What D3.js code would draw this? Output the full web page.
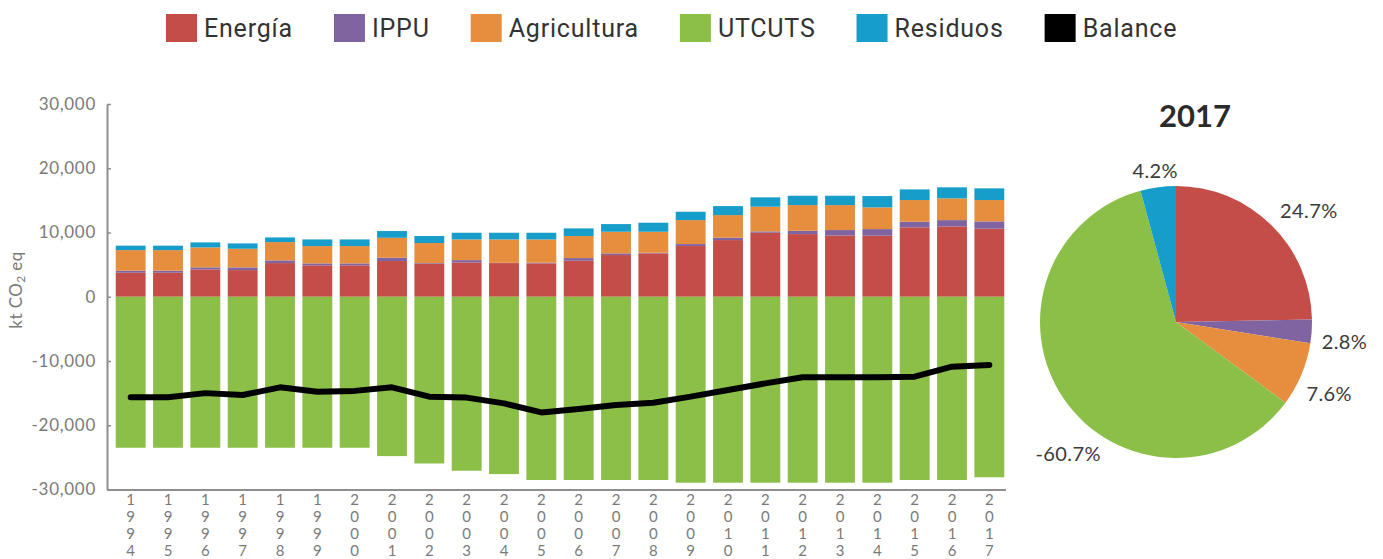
<!DOCTYPE html>
<html>
<head>
<meta charset="utf-8">
<script src="https://cdn.jsdelivr.net/npm/d3@7"></script>
<style>
  html, body { margin: 0; padding: 0; background: #fff; }
  svg { display: block; }
  text { font-family: Lato, "Open Sans", sans-serif; }
</style>
</head>
<body>
<svg id="chart" width="1383" height="559"></svg>
<script>
// ---------------- DATA ----------------
const years = ["1994","1995","1996","1997","1998","1999","2000","2001","2002","2003","2004","2005",
               "2006","2007","2008","2009","2010","2011","2012","2013","2014","2015","2016","2017"];
const energia     = [3740,3740,4250,4150,5240,4880,4880,5560,5130,5340,5240,5190,5610,6490,6750,7890,8820,9960,9750,9540,9500,10800,10950,10590];
const ippu        = [310,310,320,420,420,310,310,510,110,360,40,100,410,260,100,310,370,210,520,840,1030,880,980,1140];
const agricultura = [3210,3210,3110,2900,2850,2700,2700,3110,3120,3220,3640,3630,3430,3370,3270,3730,3520,3850,4000,3890,3380,3370,3380,3320];
const utcuts      = [-23500,-23500,-23500,-23500,-23500,-23500,-23500,-24800,-25950,-27080,-27600,-28520,-28520,-28520,-28520,-28940,-28940,-28940,-28940,-28940,-28940,-28520,-28520,-28100];
const residuos    = [690,690,780,830,720,1030,1030,1050,1090,1040,1040,1040,1190,1190,1400,1300,1400,1450,1450,1450,1760,1660,1720,1820];
const balance     = [-15650,-15650,-15000,-15300,-14100,-14800,-14650,-14100,-15550,-15700,-16600,-18000,-17470,-16850,-16490,-15550,-14510,-13480,-12540,-12540,-12540,-12440,-10880,-10620];

const seriesNames  = ["Energía","IPPU","Agricultura","UTCUTS","Residuos"];
const seriesColors = ["#C44D48","#8064A2","#E68E3E","#8CBF47","#179DC9"];
const legendNames  = ["Energía","IPPU","Agricultura","UTCUTS","Residuos","Balance"];
const legendColors = ["#C44D48","#8064A2","#E68E3E","#8CBF47","#179DC9","#000000"];

const yTicks = [-30000,-20000,-10000,0,10000,20000,30000];

const pieYear   = "2017";
const pieNames  = ["Energía","IPPU","Agricultura","UTCUTS","Residuos"];
const pieValues = [24.7, 2.8, 7.6, 60.7, 4.2];
const pieLabels = ["24.7%","2.8%","7.6%","-60.7%","4.2%"];

// ---------------- DRAW ----------------
const svg = d3.select("#chart");
const locale = d3.formatLocale({decimal:".", thousands:",", grouping:[3], currency:["",""], minus:"-"});
const fmt = locale.format(",");

const rows = years.map((y,i) => ({
  year: y,
  "Energía": energia[i], "IPPU": ippu[i], "Agricultura": agricultura[i],
  "UTCUTS": utcuts[i], "Residuos": residuos[i]
}));

const x = d3.scaleBand().domain(years).range([112, 1008]).paddingInner(0.2).paddingOuter(0.1);
const y = d3.scaleLinear().domain([-30000, 30000]).range([489.5, 104]);

const stack = d3.stack().keys(seriesNames).offset(d3.stackOffsetDiverging);
const stacked = stack(rows);

const color = d3.scaleOrdinal().domain(seriesNames).range(seriesColors);

// bars
svg.append("g").selectAll("g")
  .data(stacked)
  .join("g")
  .attr("fill", d => color(d.key))
  .selectAll("rect")
  .data(d => d)
  .join("rect")
  .attr("x", d => x(d.data.year))
  .attr("width", x.bandwidth())
  .attr("y", d => y(Math.max(d[0], d[1])))
  .attr("height", d => Math.abs(y(d[0]) - y(d[1])));

// y axis
const yAxis = d3.axisLeft(y).tickValues(yTicks).tickFormat(fmt).tickSizeInner(-4).tickSizeOuter(0).tickPadding(11);
const gy = svg.append("g").attr("transform", "translate(107,0)").call(yAxis);
gy.select(".domain").attr("stroke", "#8f8f8f").attr("stroke-width", 2);
gy.selectAll(".tick line").attr("stroke", "#8f8f8f").attr("stroke-width", 1.5);
gy.selectAll(".tick text").attr("fill", "#7a7a7a").style("font-size", "17px").style("font-family", "Lato, sans-serif").style("letter-spacing", "0.7px");

// x axis
const xAxis = d3.axisBottom(x).tickSize(0).tickFormat("");
const gx = svg.append("g").attr("transform", "translate(0,490)").call(xAxis);
gx.select(".domain").attr("d", `M107,0H1006`).attr("stroke", "#8f8f8f").attr("stroke-width", 2);
gx.selectAll(".tick").each(function(d) {
  const t = d3.select(this).append("text")
    .attr("fill", "#7a7a7a").attr("text-anchor", "middle")
    .style("font-size", "15px");
  d.split("").forEach((ch, k) => {
    t.append("tspan").attr("x", 0).attr("y", 15 + k * 17).text(ch);
  });
});

// y axis title
svg.append("text")
  .attr("transform", "translate(22,290) rotate(-90)")
  .attr("text-anchor", "middle")
  .attr("fill", "#7a7a7a")
  .style("font-size", "17px")
  .style("letter-spacing", "0.4px")
  .html('kt CO<tspan dy="3" font-size="12px">2</tspan><tspan dy="-3"> eq</tspan>');

// balance line
const line = d3.line()
  .x((d, i) => x(years[i]) + x.bandwidth() / 2)
  .y(d => y(d));
svg.append("path")
  .datum(balance)
  .attr("fill", "none")
  .attr("stroke", "#000")
  .attr("stroke-width", 6)
  .attr("stroke-linejoin", "round")
  .attr("stroke-linecap", "round")
  .attr("d", line);

// legend
const lg = svg.append("g").attr("transform", "translate(166,14)");
let lx = 0;
legendNames.forEach((name, i) => {
  const g = lg.append("g").attr("transform", `translate(${lx},0)`);
  g.append("rect").attr("width", 31).attr("height", 28).attr("fill", legendColors[i]);
  const t = g.append("text").attr("x", 38).attr("y", 23).attr("fill", "#333")
    .style("font-size", "25px").style("font-family", "Roboto, sans-serif")
    .style("letter-spacing", "0.8px").text(name);
  lx += 38 + t.node().getComputedTextLength() + 41;
});

// pie
const cx = 1176, cy = 322, R = 136;
const pie = d3.pie().sort(null).value(d => d)(pieValues);
const arc = d3.arc().innerRadius(0).outerRadius(R);
const pg = svg.append("g").attr("transform", `translate(${cx},${cy})`);
pg.selectAll("path")
  .data(pie)
  .join("path")
  .attr("d", arc)
  .attr("fill", (d, i) => color(pieNames[i]));

// pie labels (anchor per side, small nudges for Excel-like placement)
const labelArc = d3.arc().innerRadius(150).outerRadius(150);
const nudge = [[-1, -4], [-4, 10], [-8, 14], [16, 47], [-1, -2]];
const anchors = ["start", "start", "start", "middle", "middle"];
pg.selectAll("text.pl")
  .data(pie)
  .join("text")
  .attr("class", "pl")
  .attr("x", (d, i) => labelArc.centroid(d)[0] + nudge[i][0])
  .attr("y", (d, i) => labelArc.centroid(d)[1] + nudge[i][1])
  .attr("dy", "0.35em")
  .attr("text-anchor", (d, i) => anchors[i])
  .attr("fill", "#3a3a3a")
  .style("font-size", "20px")
  .style("letter-spacing", "0.4px")
  .text((d, i) => pieLabels[i]);

// pie title
svg.append("text")
  .attr("x", 1195).attr("y", 127)
  .attr("text-anchor", "middle")
  .attr("fill", "#2b2b2b")
  .style("font-size", "31px").style("font-weight", "bold")
  .text(pieYear);
</script>
</body>
</html>
